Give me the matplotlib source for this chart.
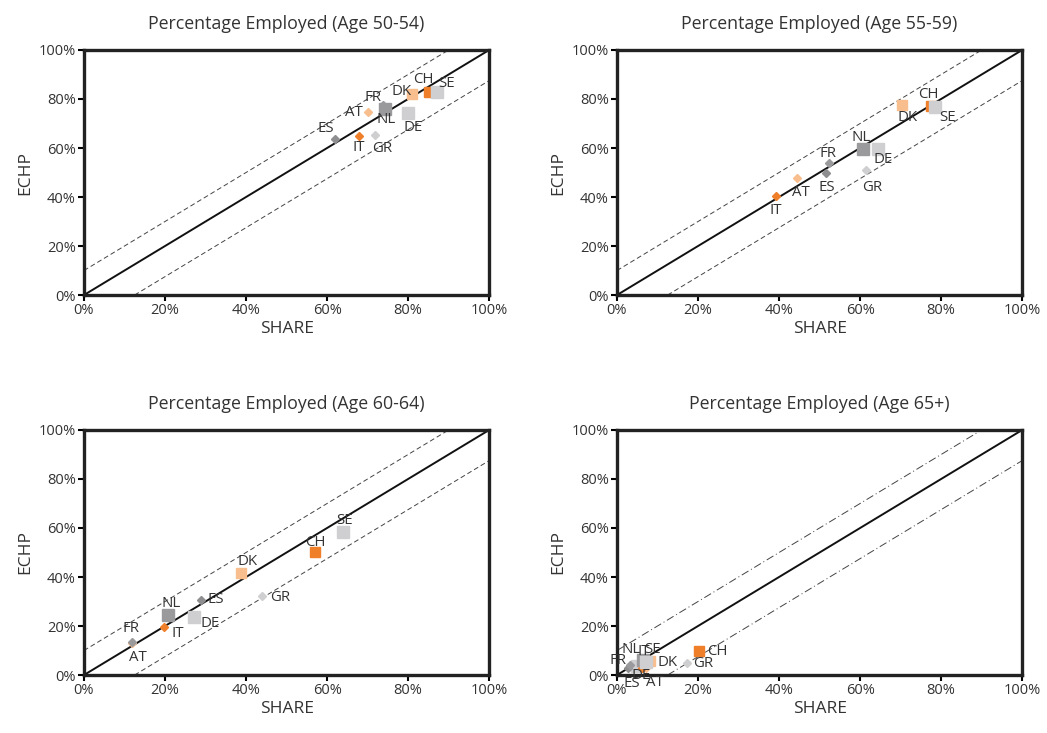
import matplotlib.pyplot as plt
from matplotlib.ticker import PercentFormatter

plt.rcParams['font.family'] = ['Open Sans', 'DejaVu Sans']

countries = ['AT', 'CH', 'DE', 'DK', 'ES', 'FR', 'GR', 'IT', 'NL', 'SE']

# SHARE (x) and ECHP (y) percentage employed, per age group
share_50_54 = [70.0, 85.2, 80.0, 80.9, 62.0, 73.8, 71.9, 67.9, 74.3, 87.1]
echp_50_54 = [74.6, 83.0, 74.3, 81.9, 63.7, 77.5, 65.3, 65.0, 76.0, 82.7]

share_55_59 = [44.4, 77.5, 64.4, 70.4, 51.5, 52.4, 61.4, 39.2, 60.6, 78.5]
echp_55_59 = [47.6, 77.3, 59.6, 77.6, 49.7, 54.0, 51.0, 40.3, 59.5, 76.9]

share_60_64 = [11.9, 57.0, 27.2, 38.8, 28.8, 11.9, 43.9, 19.8, 20.8, 64.0]
echp_60_64 = [12.9, 50.0, 23.5, 41.8, 30.6, 13.6, 32.4, 19.5, 24.5, 58.2]

share_65 = [7.1, 20.2, 4.9, 8.1, 2.7, 3.2, 17.3, 6.2, 6.4, 7.2]
echp_65 = [2.9, 9.8, 3.7, 5.7, 2.9, 4.1, 4.9, 2.9, 6.1, 5.3]

titles = ['Percentage Employed (Age 50-54)', 'Percentage Employed (Age 55-59)',
          'Percentage Employed (Age 60-64)', 'Percentage Employed (Age 65+)']
ticks = [0, 20, 40, 60, 80, 100]

ORANGE = '#F07F2A'
LORANGE = '#F8BE8E'
DGRAY = '#9A9A9D'
LGRAY = '#CFCFD1'
style = {
    'AT': ('D', LORANGE, 4.5), 'CH': ('s', ORANGE, 6.5), 'DE': ('s', LGRAY, 8.5),
    'DK': ('s', LORANGE, 6.5), 'ES': ('D', '#8E8E90', 4), 'FR': ('D', DGRAY, 4.5),
    'GR': ('D', LGRAY, 4), 'IT': ('D', ORANGE, 4), 'NL': ('s', DGRAY, 8.5),
    'SE': ('s', LGRAY, 8.5),
}

# label offsets in pixels (dx, dy) per panel
offsets = [
    {'AT': (-14, 0), 'CH': (-6, 12), 'DE': (5, -15), 'DK': (-10, 3), 'ES': (-9, 10),
     'FR': (-10, 8), 'GR': (7, -13), 'IT': (0, -12), 'NL': (1, -11), 'SE': (10, 9)},
    {'AT': (4, -14), 'CH': (-3, 11), 'DE': (5, -11), 'DK': (5, -13), 'ES': (1, -14),
     'FR': (-1, 9), 'GR': (6, -17), 'IT': (0, -14), 'NL': (-1, 12), 'SE': (12, -11)},
    {'AT': (6, -14), 'CH': (0, 10), 'DE': (16, -6), 'DK': (6, 11), 'ES': (15, 1),
     'FR': (-1, 13), 'GR': (18, -2), 'IT': (14, -6), 'NL': (3, 11), 'SE': (1, 12)},
    {'AT': (9, -15), 'CH': (19, 0), 'DE': (4, -10), 'DK': (18, -1), 'ES': (4, -16),
     'FR': (-12, 4), 'GR': (16, 0), 'IT': (2, 16), 'NL': (-12, 11), 'SE': (6, 13)},
]

data = [(share_50_54, echp_50_54), (share_55_59, echp_55_59),
        (share_60_64, echp_60_64), (share_65, echp_65)]

fig = plt.figure(figsize=(10.47, 7.33), dpi=100)
lefts = [0.0802, 0.5893, 0.0802, 0.5893]
bottoms = [0.5975, 0.5975, 0.0791, 0.0791]

for i in range(4):
    ax = fig.add_axes([lefts[i], bottoms[i], 0.387, 0.3343])
    sx, ey = data[i]
    ls = (0, (5, 3)) if i < 3 else (0, (8, 3, 1, 3))
    ax.plot([0, 100], [0, 100], color='#111111', lw=1.4, zorder=2)
    ax.plot([0, 90], [10, 100], color='#444444', lw=0.7, ls=ls, zorder=2)
    ax.plot([12.5, 100], [0, 87.5], color='#444444', lw=0.7, ls=ls, zorder=2)
    for c, x, y in zip(countries, sx, ey):
        m, col, ms = style[c]
        ax.plot(x, y, marker=m, color=col, ms=ms, mec=col, ls='none', zorder=3)
        dx, dy = offsets[i][c]
        ax.annotate(c, (x, y), xytext=(dx, dy), textcoords='offset pixels',
                    ha='center', va='center', fontsize=10.8, color='#333333', zorder=4)
    ax.set_xlim(0, 100)
    ax.set_ylim(0, 100)
    ax.set_xticks(ticks)
    ax.set_yticks(ticks)
    ax.xaxis.set_major_formatter(PercentFormatter(decimals=0))
    ax.yaxis.set_major_formatter(PercentFormatter(decimals=0))
    ax.tick_params(labelsize=10.5, labelcolor='#333333', length=4, width=1.5, pad=2)
    for sp in ax.spines.values():
        sp.set_linewidth(2.4)
        sp.set_color('#222222')
    ax.set_title(titles[i], fontsize=12.8, color='#333333', pad=15)
    ax.set_xlabel('SHARE', fontsize=12.5, color='#333333', labelpad=2)
    ax.set_ylabel('ECHP', fontsize=12.5, color='#333333', labelpad=4)

plt.savefig('out.png', dpi=100)
